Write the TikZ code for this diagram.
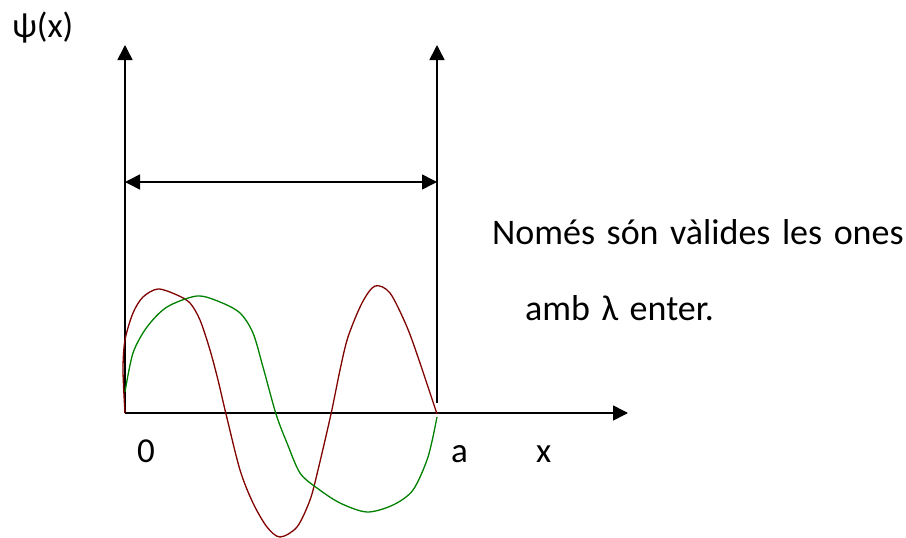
\documentclass[tikz,border=0pt]{standalone}
\usepackage{fontspec}
\setmainfont{Carlito}
\usepackage{xcolor}
\usepackage{tikz}
\usetikzlibrary{positioning, arrows.meta, calc}
\definecolor{wavered}{HTML}{800000}
\definecolor{wavegreen}{HTML}{008000}
\newcommand{\labelfont}{\fontsize{35}{40}\selectfont}
\newcommand{\notefont}{\fontsize{36}{40}\selectfont\spaceskip=11.5pt\relax}

\begin{document}
\begin{tikzpicture}[x=1pt, y=-1pt,
    axis/.style={line width=1.6pt, -{Triangle[length=15pt, width=15pt]}},
    wall/.style={line width=1.6pt},
    wave/.style={line width=1.3pt, smooth, tension=0.5},
    lbl/.style={inner sep=0pt, anchor=base west, font=\labelfont},
    note/.style={lbl, font=\notefont}]
  \useasboundingbox (0,0) rectangle (906,538);
  % axes and walls
  \coordinate (origin) at (125,413);
  \coordinate (ytip) at (125,45);
  \coordinate (xtip) at (628,413);
  \coordinate (wallbot) at (437,403);
  \coordinate (walltip) at (437,45);
  \coordinate (spanl) at (125,182);
  \coordinate (spanr) at (437,182);
  \draw[axis] (origin) -- (ytip);
  \draw[axis] (origin) -- (xtip);
  \draw[axis] (wallbot) -- (walltip);
  \draw[wall, {Triangle[length=15pt, width=15pt]}-{Triangle[length=15pt, width=15pt]}] (spanl) -- (spanr);
  % waves
  \draw[wave, wavered] plot coordinates {(125,413) (123,370) (125,340) (133,313) (143,297)
    (158,289) (177,295) (190,303) (200,320) (210,350) (218,380) (226,414) (240,470)
    (253,503) (267,527) (280,537) (297,527) (310,500) (318,470) (331,414) (340,370)
    (348,337) (362,303) (375,286) (390,293) (407,327) (420,363) (437,414)};
  \draw[wave, wavegreen] plot coordinates {(125,392) (133,353) (147,327) (167,307) (197,296)
    (220,302) (240,313) (253,333) (263,367) (276,414) (287,443) (300,473) (317,488)
    (340,503) (367,512) (393,505) (413,490) (428,457) (437,417)};
  % labels
  \node[lbl] (psi) at (12,37) {ψ(x)};
  \node[lbl] (zero) at (137,462) {0};
  \node[lbl] (alab) at (451,462) {a};
  \node[lbl] (xlab) at (536,462) {x};
  \node[note] (note1) at (492,244) {Només són vàlides les ones};
  \node[note] (note2) at (525,320) {amb λ enter.};
\end{tikzpicture}
\end{document}
